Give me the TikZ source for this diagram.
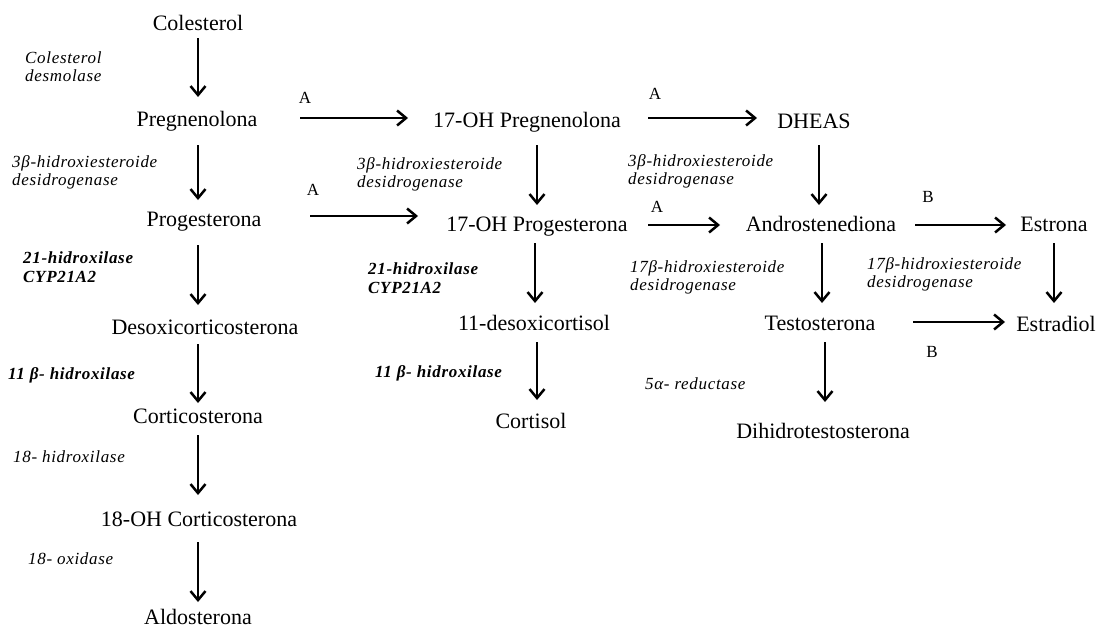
\documentclass[tikz,border=0pt]{standalone}
\usepackage{fontspec}
\setmainfont{Liberation Serif}
\newfontfamily\enzfont[LetterSpace=4]{Liberation Serif}
\usetikzlibrary{arrows.meta}
\begin{document}
\begin{tikzpicture}[x=1pt,y=-1pt,
  cmp/.style={anchor=base,inner sep=0pt,font=\fontsize{22}{26}\selectfont},
  enz/.style={anchor=west,inner sep=0pt,align=left,font=\enzfont\fontsize{17}{18}\selectfont\itshape},
  enzb/.style={anchor=west,inner sep=0pt,align=left,font=\enzfont\fontsize{17}{19}\selectfont\itshape\bfseries},
  lab/.style={inner sep=0pt,font=\fontsize{17}{18}\selectfont},
  arr/.style={-{Straight Barb[length=9pt,width=15pt,line width=2.5pt]},line width=2.5pt}
]
\fill[white] (0,0) rectangle (1102,632);
\useasboundingbox (0,0) rectangle (1102,632);

% compounds
\node[cmp] (cole) at (198,30) {Colesterol};
\node[cmp] (preg) at (197,126) {Pregnenolona};
\node[cmp] (prog) at (204,226) {Progesterona};
\node[cmp] (doc) at (205,334) {Desoxicorticosterona};
\node[cmp] (cort) at (198,423) {Corticosterona};
\node[cmp] (ohc) at (199,526) {18-OH Corticosterona};
\node[cmp] (aldo) at (198,624) {Aldosterona};
\node[cmp] (ohpreg) at (527,127) {17-OH Pregnenolona};
\node[cmp] (ohprog) at (537,231) {17-OH Progesterona};
\node[cmp] (dsc) at (534,330) {11-desoxicortisol};
\node[cmp] (cortisol) at (531,428) {Cortisol};
\node[cmp] (dheas) at (814,128) {DHEAS};
\node[cmp] (andro) at (821,231) {Androstenediona};
\node[cmp] (testo) at (820,330) {Testosterona};
\node[cmp] (dht) at (823,438) {Dihidrotestosterona};
\node[cmp] (estrona) at (1054,231) {Estrona};
\node[cmp] (estradiol) at (1056,331) {Estradiol};

% vertical arrows
\draw[arr] ([yshift=-8pt]cole.base) -- ([xshift=1pt,yshift=29pt]preg.base);
\draw[arr] ([xshift=1pt,yshift=-19pt]preg.base) -- ([xshift=-6pt,yshift=26pt]prog.base);
\draw[arr] ([xshift=-6pt,yshift=-19pt]prog.base) -- ([xshift=-7pt,yshift=29pt]doc.base);
\draw[arr] ([xshift=-7pt,yshift=-10pt]doc.base) -- ([yshift=20pt]cort.base);
\draw[arr] ([yshift=-12pt]cort.base) -- ([xshift=-1pt,yshift=31pt]ohc.base);
\draw[arr] ([xshift=-1pt,yshift=-16pt]ohc.base) -- ([yshift=22pt]aldo.base);
\draw[arr] ([xshift=10pt,yshift=-18pt]ohpreg.base) -- ([yshift=26pt]ohprog.base);
\draw[arr] ([xshift=-2pt,yshift=-12pt]ohprog.base) -- ([xshift=1pt,yshift=27pt]dsc.base);
\draw[arr] ([xshift=3pt,yshift=-12pt]dsc.base) -- ([xshift=6pt,yshift=28pt]cortisol.base);
\draw[arr] ([xshift=5pt,yshift=-17pt]dheas.base) -- ([xshift=-2pt,yshift=26pt]andro.base);
\draw[arr] ([xshift=1pt,yshift=-12pt]andro.base) -- ([xshift=2pt,yshift=27pt]testo.base);
\draw[arr] ([xshift=5pt,yshift=-12pt]testo.base) -- ([xshift=2pt,yshift=36pt]dht.base);
\draw[arr] ([yshift=-12pt]estrona.base) -- ([xshift=-2pt,yshift=28pt]estradiol.base);

% horizontal arrows
\draw[arr] ([xshift=103pt,yshift=8pt]preg.base) -- ([xshift=-119pt,yshift=9pt]ohpreg.base);
\draw[arr] ([xshift=121pt,yshift=9pt]ohpreg.base) -- ([xshift=-57pt,yshift=10pt]dheas.base);
\draw[arr] ([xshift=106pt,yshift=10pt]prog.base) -- ([xshift=-119pt,yshift=15pt]ohprog.base);
\draw[arr] ([xshift=111pt,yshift=6pt]ohprog.base) -- ([xshift=-101pt,yshift=6pt]andro.base);
\draw[arr] ([xshift=94pt,yshift=6pt]andro.base) -- ([xshift=-48pt,yshift=6pt]estrona.base);
\draw[arr] ([xshift=93pt,yshift=8pt]testo.base) -- ([xshift=-51pt,yshift=9pt]estradiol.base);

% A / B labels
\node[lab] (a1) at (305,98) {A};
\node[lab] (a2) at (655,94) {A};
\node[lab] (a3) at (313,190) {A};
\node[lab] (a4) at (657,207) {A};
\node[lab] (b1) at (928,197) {B};
\node[lab] (b2) at (932,352) {B};

% enzyme labels
\node[enz] (e1) at (25,67) {Colesterol\\desmolase};
\node[enz] (e2) at (12,172) {3β-hidroxiesteroide\\desidrogenase};
\node[enzb] (e3) at (23,267) {21-hidroxilase\\CYP21A2};
\node[enzb] (e4) at (8,375) {11 β- hidroxilase};
\node[enz] (e5) at (13,457) {18- hidroxilase};
\node[enz] (e6) at (28,559) {18- oxidase};
\node[enz] (e7) at (357,174) {3β-hidroxiesteroide\\desidrogenase};
\node[enzb] (e8) at (368,278) {21-hidroxilase\\CYP21A2};
\node[enzb] (e9) at (375,373) {11 β- hidroxilase};
\node[enz] (e10) at (628,171) {3β-hidroxiesteroide\\desidrogenase};
\node[enz] (e11) at (630,277) {17β-hidroxiesteroide\\desidrogenase};
\node[enz] (e12) at (867,274) {17β-hidroxiesteroide\\desidrogenase};
\node[enz] (e13) at (645,384) {5α- reductase};
\end{tikzpicture}
\end{document}
